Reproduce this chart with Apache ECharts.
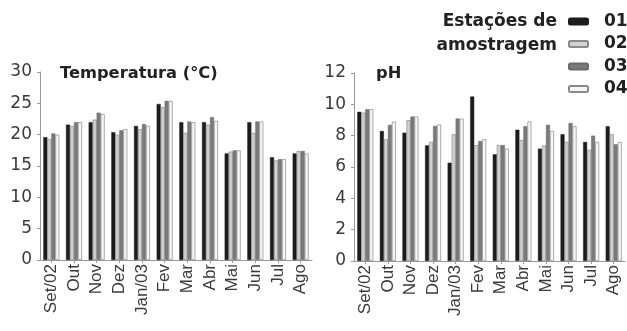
<!DOCTYPE html>
<html>
<head>
<meta charset="utf-8">
<script src="https://cdn.jsdelivr.net/npm/echarts@6/dist/echarts.min.js"></script>
<style>
html,body{margin:0;padding:0;background:#fff;}
#c{width:627px;height:331px;}
</style>
</head>
<body>
<div id="c"></div>
<script>
const categories = ["Set/02","Out","Nov","Dez","Jan/03","Fev","Mar","Abr","Mai","Jun","Jul","Ago"];
const stations = ["01","02","03","04"];
const temp01 = [19.6,21.6,22.0,20.4,21.4,24.9,22.0,22.0,17.0,22.0,16.4,17.0];
const temp02 = [19.3,21.4,22.4,20.0,20.9,24.4,20.3,21.6,17.3,20.3,15.9,17.4];
const temp03 = [20.2,22.0,23.5,20.7,21.7,25.4,22.1,22.8,17.5,22.1,16.1,17.4];
const temp04 = [20.0,22.0,23.3,20.9,21.4,25.4,22.0,22.2,17.5,22.1,16.1,17.0];
const ph01 = [9.52,8.30,8.19,7.38,6.27,10.5,6.81,8.38,7.17,8.09,7.60,8.60];
const ph02 = [9.47,7.77,8.99,7.60,8.09,7.40,7.40,7.72,7.38,7.60,7.10,8.09];
const ph03 = [9.69,8.69,9.22,8.62,9.09,7.66,7.40,8.60,8.69,8.81,8.00,7.45];
const ph04 = [9.69,8.90,9.22,8.71,9.09,7.77,7.17,8.90,8.30,8.60,7.60,7.60];
const tempTicks = {min:0,max:30,interval:5};
const phTicks = {min:0,max:12,interval:2};

const wide = "'DejaVu Sans', sans-serif";
const narrow = "'Liberation Sans', Arial, sans-serif";
const styles = [
  {color:'#1c1c1c', borderColor:'#1c1c1c', borderWidth:0.5},
  {color:'#d2d2d2', borderColor:'#8a8a8a', borderWidth:0.7},
  {color:'#7a7a7a', borderColor:'#6a6a6a', borderWidth:0.5},
  {color:'#f6f6f6', borderColor:'#8a8a8a', borderWidth:0.7}
];
const tempData = [temp01,temp02,temp03,temp04];
const phData = [ph01,ph02,ph03,ph04];

function xAx(gi){
  return {
    type:'category', gridIndex:gi, data:categories, boundaryGap:true,
    axisLine:{lineStyle:{color:'#9a9a9a',width:1}},
    axisTick:{show:true,alignWithLabel:true,length:3,lineStyle:{color:'#9a9a9a'}},
    axisLabel:{rotate:90,interval:0,color:'#3a3a3a',fontSize:17,fontFamily:narrow,margin:4}
  };
}
function yAx(gi,t){
  return {
    type:'value', gridIndex:gi, min:t.min, max:t.max, interval:t.interval,
    splitLine:{show:false},
    axisLine:{show:true,lineStyle:{color:'#9a9a9a',width:1}},
    axisTick:{show:true,length:3,lineStyle:{color:'#9a9a9a'}},
    axisLabel:{color:'#3a3a3a',fontSize:17,fontFamily:wide,margin:8}
  };
}
const series = [];
stations.forEach((s,i)=>{
  series.push({name:s,type:'bar',xAxisIndex:0,yAxisIndex:0,data:tempData[i],
    barWidth:4,barGap:'0%',itemStyle:styles[i],animation:false});
});
stations.forEach((s,i)=>{
  series.push({name:s,type:'bar',xAxisIndex:1,yAxisIndex:1,data:phData[i],
    barWidth:4,barGap:'0%',itemStyle:styles[i],animation:false});
});

const chart = echarts.init(document.getElementById('c'),null,{renderer:'canvas'});
chart.setOption({
  animation:false,
  backgroundColor:'#fff',
  grid:[
    {left:40,top:72,width:272,height:188},
    {left:354,top:73,width:271,height:188}
  ],
  xAxis:[xAx(0),xAx(1)],
  yAxis:[yAx(0,tempTicks),yAx(1,phTicks)],
  title:[
    {text:'Temperatura (°C)',left:55,top:61,textStyle:{fontSize:16.3,fontWeight:'bold',color:'#222',fontFamily:wide}},
    {text:'pH',left:371,top:61,textStyle:{fontSize:16.3,fontWeight:'bold',color:'#222',fontFamily:wide}}
  ],
  legend:{
    data:stations, orient:'vertical', left:568, top:13, padding:0,
    itemWidth:19, itemHeight:6, itemGap:5.5,
    textStyle:{fontSize:17,fontWeight:'bold',color:'#222',fontFamily:wide,lineHeight:17,padding:[0,0,0,11]},
    selectedMode:false
  },
  graphic:[
    {type:'text',x:557,y:10,style:{text:'Estações de\namostragem',font:'bold 17px '+wide,fill:'#222',lineHeight:24,align:'right',verticalAlign:'top'}}
  ],
  series:series
});
</script>
</body>
</html>
